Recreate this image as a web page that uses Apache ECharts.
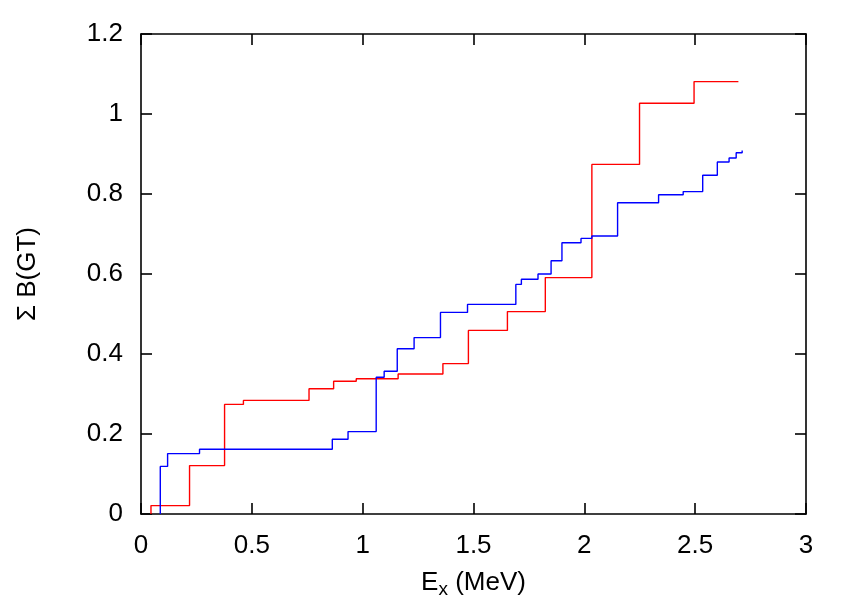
<!DOCTYPE html>
<html><head><meta charset="utf-8">
<script src="https://cdn.jsdelivr.net/npm/echarts@6/dist/echarts.min.js"></script>
<style>html,body{margin:0;padding:0;background:#fff}#c{width:853px;height:598px}</style>
</head><body><div id="c"></div>
<script>
// Red series: step positions (MeV) and cumulative B(GT) after each step
const redX = [0.045, 0.045, 0.219, 0.377, 0.462, 0.758, 0.869, 0.971, 1.160, 1.362, 1.477, 1.653, 1.824, 2.034, 2.249, 2.495, 2.695];
const redY = [0.000, 0.021, 0.121, 0.274, 0.284, 0.313, 0.332, 0.338, 0.350, 0.376, 0.459, 0.506, 0.591, 0.874, 1.027, 1.081, 1.081];
// Blue series
const blueX = [0.087, 0.087, 0.120, 0.264, 0.863, 0.934, 1.061, 1.097, 1.156, 1.232, 1.351, 1.473, 1.691, 1.716, 1.791, 1.850, 1.899, 1.985, 2.034, 2.150, 2.335, 2.446, 2.534, 2.600, 2.653, 2.685, 2.712];
const blueY = [0.000, 0.119, 0.151, 0.162, 0.187, 0.206, 0.342, 0.357, 0.413, 0.441, 0.504, 0.524, 0.574, 0.587, 0.600, 0.633, 0.678, 0.689, 0.695, 0.778, 0.798, 0.806, 0.847, 0.880, 0.890, 0.903, 0.909];
const xTicks = [0, 0.5, 1, 1.5, 2, 2.5, 3];
const yTicks = [0, 0.2, 0.4, 0.6, 0.8, 1, 1.2];

const font = 'Liberation Sans, Arial, Helvetica, sans-serif';
const chart = echarts.init(document.getElementById('c'), null, {renderer: 'canvas'});
const lineStyle = {color: '#000', width: 1.6};
const tickStyle = {show: true, inside: true, length: 11, lineStyle: {color: '#000', width: 1.6}};
const xBase = {type: 'value', min: xTicks[0], max: xTicks[xTicks.length - 1], interval: 0.5,
  splitLine: {show: false}, axisLine: {show: true, onZero: false, lineStyle}, axisTick: tickStyle};
const yBase = {type: 'value', min: yTicks[0], max: yTicks[yTicks.length - 1], interval: 0.2,
  splitLine: {show: false}, axisLine: {show: true, onZero: false, lineStyle}, axisTick: tickStyle};
chart.setOption({
  animation: false,
  backgroundColor: '#fff',
  grid: {left: 141, right: 47, top: 34, bottom: 84, containLabel: false, outerBoundsMode: 'none'},
  xAxis: [
    Object.assign({}, xBase, {position: 'bottom',
      axisLabel: {color: '#000', fontSize: 26, fontFamily: font, margin: 19, formatter: v => String(v)},
      name: '{m|E}{s|x}{m| (MeV)}', nameLocation: 'middle', nameGap: 52,
      nameTextStyle: {rich: {m: {fontSize: 26, fontFamily: font, color: '#000'},
                             s: {fontSize: 19, fontFamily: font, color: '#000', verticalAlign: 'bottom', padding: [14, 0, 0, 0]}}}}),
    Object.assign({}, xBase, {position: 'top', axisLabel: {show: false}})
  ],
  yAxis: [
    Object.assign({}, yBase, {position: 'left',
      axisLabel: {color: '#000', fontSize: 26, fontFamily: font, margin: 18, formatter: v => String(v)},
      name: 'Σ B(GT)', nameLocation: 'middle', nameGap: 100, nameRotate: 90,
      nameTextStyle: {fontSize: 26, fontFamily: font, color: '#000'}}),
    Object.assign({}, yBase, {position: 'right', axisLabel: {show: false}})
  ],
  series: [
    {type: 'line', step: 'end', symbol: 'none', data: redX.map((x, i) => [x, redY[i]]),
     lineStyle: {color: '#ff0000', width: 1.4}, xAxisIndex: 0, yAxisIndex: 0},
    {type: 'line', step: 'end', symbol: 'none', data: blueX.map((x, i) => [x, blueY[i]]),
     lineStyle: {color: '#0000ff', width: 1.4}, xAxisIndex: 0, yAxisIndex: 0}
  ]
});
</script></body></html>
